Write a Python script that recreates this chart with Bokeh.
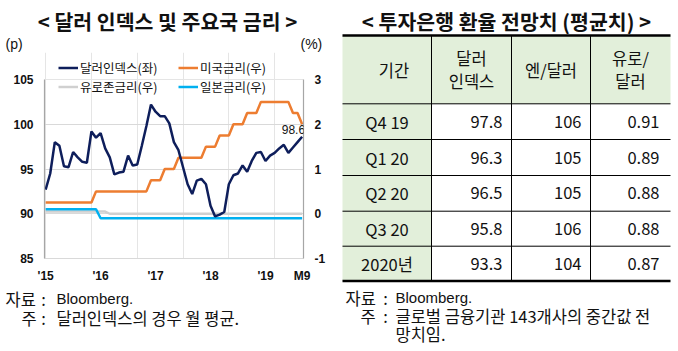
from bokeh.plotting import figure
from bokeh.models import (Range1d, LinearAxis, FixedTicker, Label, Legend, LegendItem,
                          ColumnDataSource, Grid)
from bokeh.layouts import row, column
from bokeh.embed import file_html
from bokeh.resources import INLINE
from bokeh.core.properties import value

KR = "Noto Sans CJK KR"
LAT = "Liberation Sans"

# ---------------- data: left chart (monthly, Jan 2015 - Sep 2019) ----------------
month_index = list(range(57))
x_tick_pos = [0, 12, 24, 36, 48, 56]
x_tick_labels = ["'15", "'16", "'17", "'18", "'19", "M9"]
left_ticks = [85, 90, 95, 100, 105]
right_ticks = [-1, 0, 1, 2, 3]

dollar_index = [92.7, 94.5, 98.0, 97.6, 95.3, 95.2, 96.9, 96.3, 95.8, 95.7, 99.2, 98.5,
                99.0, 97.3, 96.3, 94.4, 94.6, 94.7, 96.5, 95.4, 95.5, 97.6, 99.8, 102.2,
                101.4, 100.9, 100.9, 100.1, 98.0, 97.1, 95.2, 93.3, 92.2, 93.7, 93.9, 93.3,
                90.9, 89.7, 89.9, 90.2, 93.3, 94.3, 94.5, 95.4, 94.7, 95.9, 96.8, 96.9,
                95.9, 96.5, 96.8, 97.3, 97.7, 96.8, 97.4, 98.0, 98.6]
us_rate = [0.25, 0.25, 0.25, 0.25, 0.25, 0.25, 0.25, 0.25, 0.25, 0.25, 0.25, 0.5,
           0.5, 0.5, 0.5, 0.5, 0.5, 0.5, 0.5, 0.5, 0.5, 0.5, 0.5, 0.75,
           0.75, 0.75, 1.0, 1.0, 1.0, 1.25, 1.25, 1.25, 1.25, 1.25, 1.25, 1.5,
           1.5, 1.5, 1.75, 1.75, 1.75, 2.0, 2.0, 2.0, 2.25, 2.25, 2.25, 2.5,
           2.5, 2.5, 2.5, 2.5, 2.5, 2.5, 2.25, 2.25, 2.0]
euro_rate = [0.05, 0.05, 0.05, 0.05, 0.05, 0.05, 0.05, 0.05, 0.05, 0.05, 0.05, 0.05,
             0.05, 0.05, 0.0, 0.0, 0.0, 0.0, 0.0, 0.0, 0.0, 0.0, 0.0, 0.0,
             0.0, 0.0, 0.0, 0.0, 0.0, 0.0, 0.0, 0.0, 0.0, 0.0, 0.0, 0.0,
             0.0, 0.0, 0.0, 0.0, 0.0, 0.0, 0.0, 0.0, 0.0, 0.0, 0.0, 0.0,
             0.0, 0.0, 0.0, 0.0, 0.0, 0.0, 0.0, 0.0, 0.0]
japan_rate = [0.1, 0.1, 0.1, 0.1, 0.1, 0.1, 0.1, 0.1, 0.1, 0.1, 0.1, 0.1,
              -0.1, -0.1, -0.1, -0.1, -0.1, -0.1, -0.1, -0.1, -0.1, -0.1, -0.1, -0.1,
              -0.1, -0.1, -0.1, -0.1, -0.1, -0.1, -0.1, -0.1, -0.1, -0.1, -0.1, -0.1,
              -0.1, -0.1, -0.1, -0.1, -0.1, -0.1, -0.1, -0.1, -0.1, -0.1, -0.1, -0.1,
              -0.1, -0.1, -0.1, -0.1, -0.1, -0.1, -0.1, -0.1, -0.1]
series_names = ["달러인덱스(좌)", "미국금리(우)", "유로존금리(우)", "일본금리(우)"]

# ---------------- data: right table ----------------
periods = ["Q4 19", "Q1 20", "Q2 20", "Q3 20", "2020년"]
fc_dollar_index = [97.8, 96.3, 96.5, 95.8, 93.3]
fc_yen = [106, 105, 105, 106, 104]
fc_euro = [0.91, 0.89, 0.88, 0.88, 0.87]
table_headers = [["기간"], ["달러", "인덱스"], ["엔/달러"], ["유로/", "달러"]]

TXT = "#111111"


def text_fig(w, h, x0, y0):
    f = figure(width=w, height=h, output_backend="svg", toolbar_location=None,
               x_range=Range1d(x0, x0 + w), y_range=Range1d(y0 + h, y0),
               min_border=0, x_axis_location=None, y_axis_location=None)
    f.frame_align = False
    f.outline_line_color = None
    f.xgrid.visible = False
    f.ygrid.visible = False
    f.background_fill_color = "white"
    f.border_fill_color = "white"
    return f


def tlabel(p, px, py, text, size="16.5px", align="left", style="normal", font=KR):
    p.add_layout(Label(x=px, y=py, text=text, text_align=align, text_baseline="middle",
                       text_font=font, text_font_size=size, text_font_style=style,
                       text_color=TXT))


# ================= left: header strip =================
TOP_H = 52
top_left = text_fig(339, TOP_H, 0, 0)
tlabel(top_left, 167, 20, "< 달러 인덱스 및 주요국 금리 >", size="20.5px", align="center", style="bold")
tlabel(top_left, 5, 43, "(p)", size="14px", font=LAT)
tlabel(top_left, 300, 43, "(%)", size="14px", font=LAT)

# ================= left: chart =================
CH_H = 234                      # page y from 52 to 286
FRAME_TOP, FRAME_BOT = 79, 258  # page y of 105 / 85
px_per_unit = (FRAME_BOT - FRAME_TOP) / (left_ticks[-1] - left_ticks[0])
px_per_rate = (FRAME_BOT - FRAME_TOP) / (right_ticks[-1] - right_ticks[0])
y_end = left_ticks[-1] + (FRAME_TOP - TOP_H) / px_per_unit
r_end = right_ticks[-1] + (FRAME_TOP - TOP_H) / px_per_rate

p1 = figure(width=339, height=CH_H, output_backend="svg", toolbar_location=None,
            x_range=Range1d(-0.25, 56.3), y_range=Range1d(left_ticks[0], y_end),
            min_border_left=44, min_border_right=36, min_border_top=0,
            min_border_bottom=TOP_H + CH_H - FRAME_BOT,
            x_axis_location=None, y_axis_location=None)
p1.frame_align = False
p1.extra_y_ranges = {"rate": Range1d(right_ticks[0], r_end)}
p1.outline_line_color = None
p1.background_fill_color = "white"
p1.border_fill_color = "white"

p1.add_layout(Grid(dimension=1, ticker=FixedTicker(ticks=[90, 95, 100]),
                   grid_line_color="#D9D9D9", grid_line_width=1))


def style_axis(ax, line_color):
    ax.axis_line_color = line_color
    ax.axis_line_width = 1.2
    ax.major_tick_in = 0
    ax.major_tick_out = 0
    ax.minor_tick_in = 0
    ax.minor_tick_out = 0
    ax.major_label_text_font = LAT
    ax.major_label_text_font_style = "bold"
    ax.major_label_text_font_size = "12px"
    ax.major_label_text_color = TXT


ax_l = LinearAxis(ticker=FixedTicker(ticks=left_ticks), bounds=(left_ticks[0], left_ticks[-1]))
style_axis(ax_l, "#A6A6A6")
ax_l.major_label_standoff = 11
p1.add_layout(ax_l, "left")

ax_r = LinearAxis(y_range_name="rate", ticker=FixedTicker(ticks=right_ticks),
                  bounds=(right_ticks[0], right_ticks[-1]),
                  major_label_overrides={t: str(t) for t in right_ticks})
style_axis(ax_r, "#A6A6A6")
ax_r.major_label_standoff = 11
p1.add_layout(ax_r, "right")

ax_b = LinearAxis(ticker=FixedTicker(ticks=x_tick_pos),
                  major_label_overrides={t: s for t, s in zip(x_tick_pos, x_tick_labels)})
style_axis(ax_b, "#D9D9D9")
ax_b.major_label_standoff = 10
p1.add_layout(ax_b, "below")

src = ColumnDataSource(dict(m=month_index, dxy=dollar_index, us=us_rate,
                            eu=euro_rate, jp=japan_rate))
r_eu = p1.line("m", "eu", source=src, y_range_name="rate", line_color="#D0D0D0", line_width=2.5)
r_jp = p1.line("m", "jp", source=src, y_range_name="rate", line_color="#00B0F0", line_width=2.5)
r_us = p1.line("m", "us", source=src, y_range_name="rate", line_color="#ED7D31", line_width=2.5)
r_dxy = p1.line("m", "dxy", source=src, line_color="#0E1E5B", line_width=2.5)

legend = Legend(items=[LegendItem(label=series_names[0], renderers=[r_dxy]),
                       LegendItem(label=series_names[1], renderers=[r_us]),
                       LegendItem(label=series_names[2], renderers=[r_eu]),
                       LegendItem(label=series_names[3], renderers=[r_jp])],
                orientation="horizontal", ncols=2, location=(14, 162),
                label_text_font=KR, label_text_font_size="12.5px", label_text_color=TXT,
                glyph_width=20, glyph_height=17, label_height=17, label_width=98,
                label_standoff=2, spacing=0, padding=0, margin=0,
                border_line_color=None, background_fill_alpha=0)
p1.add_layout(legend)

p1.add_layout(Label(x=month_index[-1], y=dollar_index[-1], text=f"{dollar_index[-1]:.1f}",
                    text_align="right", text_baseline="bottom", x_offset=3, y_offset=3,
                    text_font=LAT, text_font_size="12px", text_color=TXT))

# ================= left: footnotes =================
FOOT_Y0 = TOP_H + CH_H
foot_left = text_fig(339, 351 - FOOT_Y0, 0, FOOT_Y0)
tlabel(foot_left, 5, 298, "자료")
tlabel(foot_left, 43, 298, ":", align="center")
tlabel(foot_left, 56, 298, "Bloomberg.", font=LAT, size="15px")
tlabel(foot_left, 21, 317, "주")
tlabel(foot_left, 43, 317, ":", align="center")
tlabel(foot_left, 56, 317, "달러인덱스의 경우 월 평균.")

# ================= right table =================
p2 = text_fig(339, 351, 339, 0)

col_edges = [342, 431, 511, 590, 670]
row_edges = [35, 103.3, 139, 175, 210.7, 245.7, 280.5]
GREEN = "#E2EFDA"

p2.quad(left=[col_edges[0], col_edges[0]], right=[col_edges[-1], col_edges[1]],
        top=[row_edges[0], row_edges[1]], bottom=[row_edges[1], row_edges[-1]],
        fill_color=GREEN, line_color=None)
p2.segment(x0=[col_edges[0]] * 5, x1=[col_edges[-1]] * 5, y0=row_edges[1:6], y1=row_edges[1:6],
           line_color="black", line_width=1)
p2.segment(x0=col_edges[1:4], x1=col_edges[1:4], y0=[row_edges[0]] * 3, y1=[row_edges[-1]] * 3,
           line_color="black", line_width=1)
p2.segment(x0=[col_edges[0]] * 2, x1=[col_edges[-1]] * 2, y0=[row_edges[0], row_edges[-1]],
           y1=[row_edges[0], row_edges[-1]], line_color="black", line_width=2.6)

hx, hy, ht = [], [], []
hcy = (row_edges[0] + row_edges[1]) / 2
for c, lines in enumerate(table_headers):
    cx = (col_edges[c] + col_edges[c + 1]) / 2 + (7 if c == 0 else 0)
    n = len(lines)
    for k, t in enumerate(lines):
        hx.append(cx)
        hy.append(hcy + (k - (n - 1) / 2) * 23)
        ht.append(t)
p2.text(x=hx, y=hy, text=ht, text_align="center", text_baseline="middle",
        text_font=value(KR), text_font_size="16.5px", text_color=TXT)

row_cy = [(row_edges[i + 1] + row_edges[i + 2]) / 2 for i in range(len(periods))]
p2.text(x=[(col_edges[0] + col_edges[1]) / 2] * len(periods), y=row_cy, text=periods,
        text_align="center", text_baseline="middle", text_font=value(KR),
        text_font_size="16.5px", text_color=TXT)
cells_x, cells_y, cells_t = [], [], []
for i in range(len(periods)):
    vals = [f"{fc_dollar_index[i]:.1f}", f"{fc_yen[i]:d}", f"{fc_euro[i]:.2f}"]
    for c, t in enumerate(vals):
        cells_x.append(col_edges[c + 2] - (11 if c == 2 else 9))
        cells_y.append(row_cy[i])
        cells_t.append(t)
p2.text(x=cells_x, y=cells_y, text=cells_t, text_align="right", text_baseline="middle",
        text_font=value(KR), text_font_size="16.5px", text_color=TXT)

tlabel(p2, 506, 20, "< 투자은행 환율 전망치 (평균치) >", size="20.5px", align="center", style="bold")
tlabel(p2, 345, 297, "자료")
tlabel(p2, 385, 297, ":", align="center")
tlabel(p2, 395, 297, "Bloomberg.", font=LAT, size="15px")
tlabel(p2, 360, 315, "주")
tlabel(p2, 385, 315, ":", align="center")
tlabel(p2, 395, 315, "글로벌 금융기관 143개사의 중간값 전")
tlabel(p2, 395, 333, "망치임.")

layout = row(column(top_left, p1, foot_left, spacing=0), p2, spacing=0)
open("out.html", "w").write(file_html(layout, INLINE))
